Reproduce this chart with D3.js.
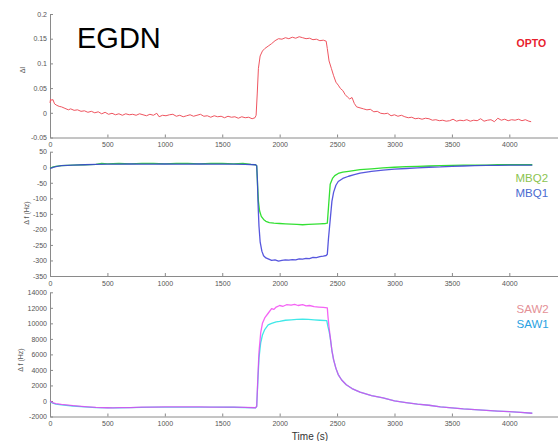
<!DOCTYPE html>
<html><head><meta charset="utf-8">
<script src="https://cdn.jsdelivr.net/npm/d3@7"></script>
<style>
body{margin:0;background:#fff;}
svg{display:block;font-family:"Liberation Sans",Arial,sans-serif;}
</style></head>
<body><svg id="c" width="558" height="441"></svg>
<script>
// ---- data ----
const xTicks = [0,500,1000,1500,2000,2500,3000,3500,4000];
const optoTicks = [-0.05,0,0.05,0.1,0.15,0.2];
const optoTickLabels = ["-0.05","0","0.05","0.1","0.15","0.2"];
const mbqTicks = [-350,-300,-250,-200,-150,-100,-50,0,50];
const sawTicks = [-2000,0,2000,4000,6000,8000,10000,12000,14000];

const opto = [[0,0.02],[5,0.028],[15,0.025],[25,0.027],[40,0.018],[60,0.015],[80,0.013],[100,0.012],[130,0.009],[160,0.006],[180,0.008],[210,0.005],[240,0.006],[270,0.003],[300,0.004],[330,0.001],[360,0.003],[390,0.000],[420,0.002],[450,-0.002],[480,0.001],[510,-0.003],[540,-0.001],[570,-0.004],[600,-0.002],[630,-0.005],[660,-0.002],[690,-0.004],[720,-0.003],[750,-0.005],[780,-0.002],[810,-0.004],[840,-0.006],[870,-0.003],[900,-0.005],[930,-0.001],[950,-0.008],[980,-0.005],[1010,-0.006],[1040,-0.004],[1070,-0.003],[1100,-0.007],[1130,-0.005],[1160,-0.008],[1190,-0.006],[1220,-0.004],[1250,-0.007],[1280,-0.005],[1310,-0.003],[1340,-0.007],[1370,-0.006],[1400,-0.009],[1430,-0.006],[1460,-0.008],[1490,-0.007],[1520,-0.01],[1550,-0.007],[1580,-0.009],[1610,-0.008],[1640,-0.011],[1670,-0.008],[1700,-0.01],[1730,-0.009],[1760,-0.012],[1785,-0.01],[1795,-0.005],[1805,0.04],[1815,0.09],[1830,0.115],[1850,0.125],[1870,0.13],[1900,0.135],[1930,0.14],[1960,0.146],[1990,0.15],[2020,0.149],[2050,0.152],[2080,0.15],[2110,0.153],[2140,0.151],[2170,0.154],[2200,0.152],[2230,0.15],[2260,0.151],[2290,0.148],[2320,0.149],[2350,0.146],[2380,0.147],[2405,0.145],[2415,0.13],[2430,0.105],[2450,0.09],[2470,0.075],[2490,0.062],[2510,0.056],[2530,0.049],[2550,0.045],[2570,0.037],[2590,0.032],[2610,0.028],[2630,0.031],[2650,0.019],[2670,0.012],[2700,0.01],[2730,0.008],[2760,0.006],[2790,0.007],[2820,0.002],[2850,0.003],[2880,-0.001],[2910,-0.002],[2940,-0.001],[2970,-0.006],[3000,-0.004],[3030,-0.007],[3060,-0.005],[3090,-0.008],[3120,-0.01],[3150,-0.009],[3180,-0.012],[3210,-0.011],[3240,-0.013],[3270,-0.011],[3300,-0.012],[3330,-0.015],[3360,-0.014],[3390,-0.016],[3420,-0.015],[3450,-0.017],[3480,-0.016],[3510,-0.013],[3540,-0.017],[3570,-0.015],[3600,-0.016],[3630,-0.014],[3660,-0.017],[3690,-0.015],[3720,-0.016],[3750,-0.012],[3780,-0.017],[3810,-0.015],[3840,-0.014],[3870,-0.018],[3900,-0.011],[3930,-0.015],[3960,-0.013],[3990,-0.016],[4020,-0.014],[4050,-0.015],[4080,-0.013],[4110,-0.016],[4140,-0.014],[4170,-0.017],[4190,-0.018]];

const mbq2 = [[0,-3],[20,0],[50,3],[100,5],[200,7],[300,8],[400,9],[450,12],[500,11],[600,12],[700,11],[800,12],[900,12],[1000,11],[1100,12],[1200,12],[1300,11],[1400,12],[1500,12],[1600,11],[1680,12],[1750,9],[1790,8],[1800,5],[1808,-60],[1815,-110],[1825,-140],[1840,-158],[1860,-168],[1880,-174],[1910,-178],[1950,-180],[2000,-181],[2050,-182],[2100,-183],[2150,-184],[2200,-185],[2250,-184],[2300,-183],[2350,-182],[2400,-181],[2415,-180],[2425,-130],[2440,-55],[2460,-36],[2480,-27],[2510,-20],[2550,-16],[2600,-13],[2700,-8],[2800,-5],[2900,-2],[3000,0],[3100,2],[3200,3],[3300,4],[3400,5],[3500,6],[3600,7],[3700,7],[3800,7],[3900,8],[4000,8],[4100,8],[4200,8]];

const mbq1 = [[0,-4],[20,-1],[50,2],[100,5],[200,7],[300,8],[400,9],[500,10],[600,10],[700,11],[800,10],[900,10],[1000,11],[1100,10],[1200,10],[1300,11],[1400,10],[1500,10],[1600,10],[1700,9],[1790,8],[1800,5],[1806,-40],[1812,-120],[1820,-190],[1830,-240],[1845,-270],[1860,-285],[1880,-292],[1900,-295],[1930,-300],[1960,-298],[1990,-302],[2020,-300],[2050,-298],[2080,-299],[2110,-297],[2140,-298],[2170,-295],[2200,-296],[2230,-293],[2260,-294],[2290,-290],[2320,-291],[2350,-288],[2380,-286],[2405,-284],[2415,-280],[2425,-230],[2440,-170],[2455,-110],[2470,-80],[2490,-58],[2510,-46],[2550,-36],[2600,-29],[2650,-24],[2700,-19],[2800,-13],[2900,-9],[3000,-6],[3100,-4],[3200,-2],[3300,0],[3400,1],[3500,3],[3600,4],[3700,5],[3800,6],[3900,6],[4000,7],[4100,7],[4200,7]];

const saw2 = [[0,0],[20,-200],[50,-350],[100,-450],[200,-600],[300,-720],[400,-820],[500,-870],[550,-880],[600,-860],[700,-850],[800,-800],[900,-780],[1000,-760],[1100,-760],[1200,-770],[1300,-770],[1400,-780],[1500,-780],[1600,-800],[1700,-820],[1790,-870],[1800,-700],[1810,3000],[1820,6300],[1835,8800],[1850,10000],[1870,10700],[1900,11300],[1930,11900],[1950,11800],[1970,12100],[2000,12300],[2030,12200],[2060,12400],[2100,12350],[2130,12450],[2160,12300],[2200,12400],[2230,12250],[2260,12300],[2300,12150],[2340,12100],[2380,12050],[2415,12000],[2420,11000],[2430,9500],[2440,8300],[2455,6500],[2470,5300],[2490,4200],[2510,3400],[2540,2700],[2580,2100],[2630,1600],[2700,1150],[2800,700],[2900,400],[3000,0],[3100,-200],[3200,-400],[3300,-550],[3400,-750],[3500,-900],[3600,-1030],[3700,-1120],[3800,-1220],[3900,-1300],[4000,-1370],[4100,-1470],[4200,-1580]];

const saw1 = [[0,-100],[20,-250],[50,-400],[100,-500],[200,-650],[300,-760],[400,-850],[500,-900],[600,-890],[700,-860],[800,-820],[900,-800],[1000,-790],[1200,-790],[1400,-800],[1600,-810],[1790,-880],[1800,-700],[1810,2500],[1820,5500],[1835,7500],[1850,8500],[1870,9200],[1900,9800],[1930,10000],[1970,10200],[2000,10250],[2050,10400],[2100,10450],[2150,10500],[2200,10550],[2250,10500],[2300,10450],[2350,10400],[2410,10350],[2420,9600],[2430,9000],[2440,8200],[2455,6500],[2470,5300],[2490,4200],[2510,3400],[2540,2700],[2580,2100],[2630,1600],[2700,1150],[2800,700],[2900,400],[3000,0],[3100,-200],[3200,-400],[3300,-550],[3400,-750],[3500,-900],[3600,-1030],[3700,-1120],[3800,-1220],[3900,-1300],[4000,-1370],[4100,-1470],[4200,-1580]];

// ---- drawing ----
const svg = d3.select("#c");
const axisColor = "#8a8a8a", labelColor = "#555";
const x = d3.scaleLinear().domain([0, 4430]).range([50, 558.7]);

const panels = [
  {dom:[-0.05,0.2], rng:[137.5,14], ticks:optoTicks, fmt:(d,i)=>optoTickLabels[i], ylab:"ΔI", ylx:24.5, yly:70},
  {dom:[-350,50], rng:[276,151.7], ticks:mbqTicks, fmt:d=>d, ylab:"Δ f (Hz)", ylx:29, yly:213},
  {dom:[-2000,14000], rng:[416.5,292.3], ticks:sawTicks, fmt:d=>d, ylab:"Δ f (Hz)", ylx:23, yly:360}
];
panels.forEach(p=>{
  p.y = d3.scaleLinear().domain(p.dom).range(p.rng);
  const g = svg.append("g");
  // x axis
  const xa = g.append("g").attr("transform",`translate(0,${p.rng[0]})`)
    .call(d3.axisBottom(x).tickValues(xTicks).tickSizeInner(-3).tickSizeOuter(0).tickPadding(5).tickFormat(d=>d));
  // y axis
  const ya = g.append("g").attr("transform",`translate(50,0)`)
    .call(d3.axisLeft(p.y).tickValues(p.ticks).tickSizeInner(-3).tickSizeOuter(0).tickPadding(3).tickFormat(p.fmt));
  [xa,ya].forEach(a=>{
    a.select(".domain").attr("stroke",axisColor);
    a.selectAll(".tick line").attr("stroke",axisColor);
    a.selectAll(".tick text").attr("fill",labelColor).style("font-size","7px").style("font-family","'Liberation Sans',Arial,sans-serif");
  });
  g.append("text").attr("transform",`translate(${p.ylx},${p.yly}) rotate(-90)`)
    .attr("text-anchor","middle").attr("fill",labelColor).style("font-size","7px").text(p.ylab);
});

const line = (y)=> d3.line().x(d=>x(d[0])).y(d=>y(d[1]));
function draw(data, y, color, w, op){
  svg.append("path").datum(data).attr("d", line(y)).attr("fill","none")
    .attr("stroke",color).attr("stroke-width",w).attr("stroke-opacity",op||1).attr("stroke-linejoin","round");
}
draw(opto, panels[0].y, "#ef5560", 1);
draw(mbq2, panels[1].y, "#33e033", 1.3);
draw(mbq1, panels[1].y, "#3a3ad8", 1.3, 0.85);
draw(saw1, panels[2].y, "#40e8e8", 1.3);
draw(saw2, panels[2].y, "#f030f0", 1.3, 0.75);

// texts
svg.append("text").attr("x",77).attr("y",48.3).style("font-size","29px").attr("fill","#000").text("EGDN");
svg.append("text").attr("x",516.5).attr("y",46.7).style("font-size","10.5px").style("font-weight","bold").attr("fill","#e8202c").text("OPTO");
svg.append("text").attr("x",515.5).attr("y",181.7).style("font-size","11.5px").attr("fill","#8cc450").text("MBQ2");
svg.append("text").attr("x",515.5).attr("y",196.7).style("font-size","11.5px").attr("fill","#4a6ad0").text("MBQ1");
svg.append("text").attr("x",516.5).attr("y",313.3).style("font-size","11.5px").attr("fill","#e49096").text("SAW2");
svg.append("text").attr("x",516.5).attr("y",328.3).style("font-size","11.5px").attr("fill","#2aa2e2").text("SAW1");
svg.append("text").attr("x",310).attr("y",440).attr("text-anchor","middle").style("font-size","10px").attr("fill","#333").text("Time (s)");
</script></body></html>
